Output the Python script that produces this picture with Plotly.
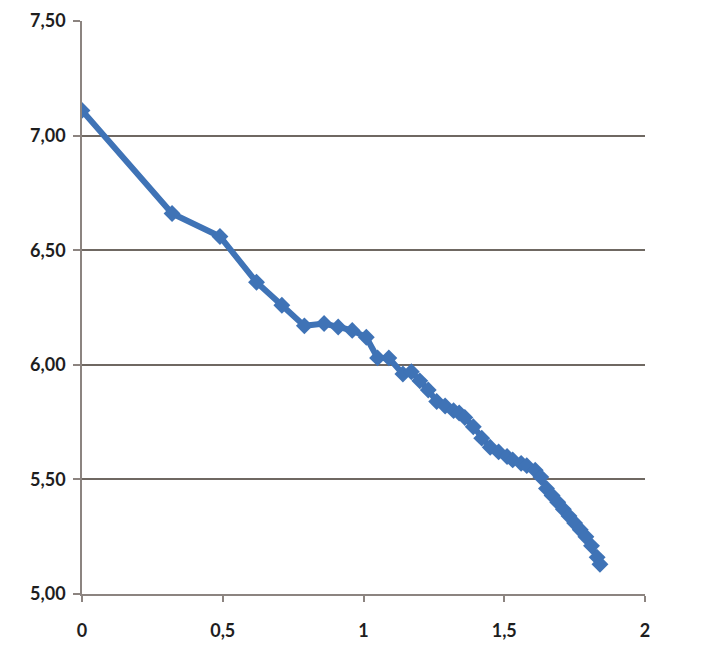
import plotly.graph_objects as go

# valores
x_vals = [0.0, 0.32, 0.49, 0.62, 0.71, 0.79, 0.86, 0.91, 0.96, 1.01, 1.05, 1.09,
          1.14, 1.17, 1.20, 1.23, 1.26, 1.29, 1.32, 1.34, 1.36, 1.39, 1.42, 1.45,
          1.48, 1.51, 1.53, 1.56, 1.58, 1.61, 1.63, 1.65, 1.67, 1.69, 1.71, 1.73,
          1.75, 1.77, 1.79, 1.81, 1.83, 1.84]
y_vals = [7.11, 6.66, 6.56, 6.36, 6.26, 6.17, 6.18, 6.165, 6.15, 6.12, 6.03, 6.03,
          5.96, 5.97, 5.93, 5.89, 5.84, 5.82, 5.80, 5.79, 5.77, 5.73, 5.68, 5.64,
          5.62, 5.60, 5.585, 5.57, 5.56, 5.54, 5.51, 5.46, 5.43, 5.40, 5.37, 5.34,
          5.31, 5.28, 5.25, 5.21, 5.16, 5.13]

y_ticks = [5.0, 5.5, 6.0, 6.5, 7.0, 7.5]
x_ticks = [0, 0.5, 1, 1.5, 2]

blue = "#3f73b6"
tick_font = dict(family="Lato", size=18, color="#1e1e1e", weight="bold")

fig = go.Figure()
fig.add_trace(go.Scatter(
    x=x_vals, y=y_vals, mode="lines+markers",
    line=dict(color=blue, width=6),
    marker=dict(symbol="diamond", size=13, color=blue),
    showlegend=False,
))

# la página añade 8 px de margen al cuerpo
fig.update_layout(
    width=707, height=660,
    margin=dict(l=74, r=70, t=13, b=74),
    plot_bgcolor="white", paper_bgcolor="white",
    separators=", ",
)
fig.update_xaxes(
    range=[0, 2], tickvals=x_ticks, showgrid=False, zeroline=False,
    showline=True, linecolor="#8c8480", linewidth=1.5,
    ticks="outside", ticklen=6, tickcolor="#8c8480", tickwidth=1.5,
    tickfont=tick_font, ticklabelstandoff=14, automargin=False,
)
fig.update_yaxes(
    range=[5, 7.5], tickvals=y_ticks, tickformat=".2f",
    showgrid=True, gridcolor="#6f6862", gridwidth=1.5, zeroline=False,
    showline=True, linecolor="#8c8480", linewidth=1.5,
    ticks="outside", ticklen=7, tickcolor="#8c8480", tickwidth=1.5,
    tickfont=tick_font, ticklabelstandoff=4, automargin=False,
)

fig.write_html("out.html")
